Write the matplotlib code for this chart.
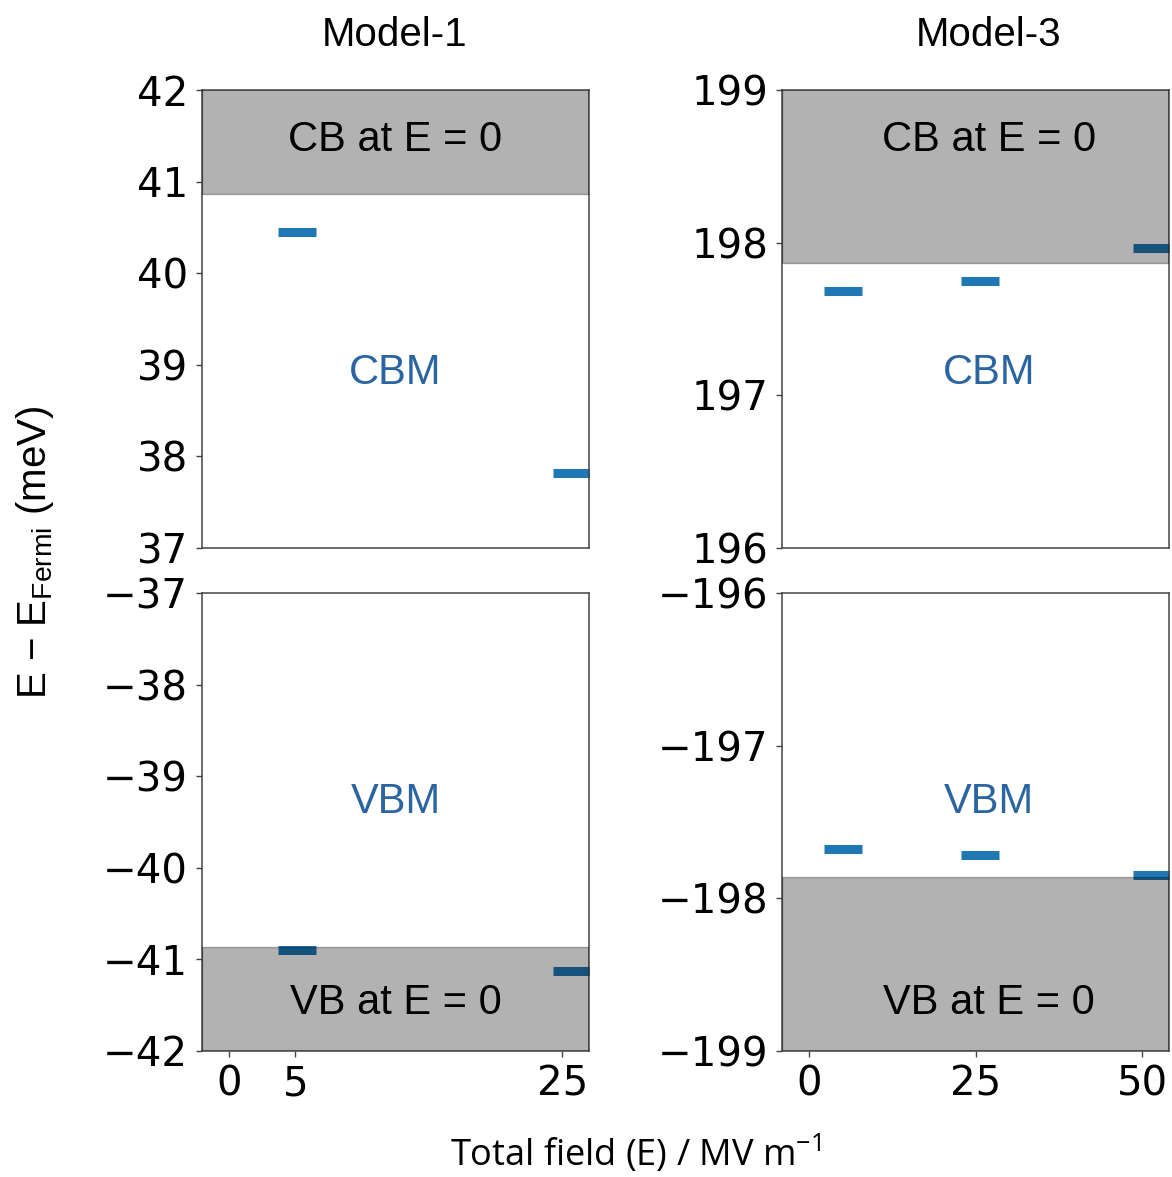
import matplotlib
matplotlib.use("Agg")
import matplotlib.pyplot as plt

# field values (MV/m) and band edges (meV)
m1_field = [5.1, 25.7]
m1_cbm = [40.45, 37.82]
m1_vbm = [-40.90, -41.13]
m1_cb0 = 40.86
m1_vb0 = -40.86

m3_field = [5.1, 25.7, 51.5]
m3_cbm = [197.685, 197.746, 197.967]
m3_vbm = [-197.674, -197.713, -197.844]
m3_cb0 = 197.864
m3_vb0 = -197.861

titles = ["Model-1", "Model-3"]
m1_xticks = [0, 5, 25]
m3_xticks = [0, 25, 50]

plt.rcParams['mathtext.fontset'] = 'custom'
plt.rcParams['mathtext.rm'] = 'Liberation Sans'

W, H = 1172, 1177
fig = plt.figure(figsize=(W / 100, H / 100), dpi=100)

def px_axes(x0, y0, x1, y1):
    return fig.add_axes([x0 / W, 1 - y1 / H, (x1 - x0) / W, (y1 - y0) / H])

ax_tl = px_axes(202, 90, 589, 548)
ax_bl = px_axes(202, 593, 589, 1051)
ax_tr = px_axes(782, 90, 1169, 548)
ax_br = px_axes(782, 593, 1169, 1051)

blue = '#1f77b4'
txt_blue = '#2b65a1'
sans = ['Liberation Sans', 'DejaVu Sans']

def style(ax):
    for sp in ax.spines.values():
        sp.set_color('#444444')
        sp.set_linewidth(1.1)
    ax.tick_params(labelsize=29, length=4, width=1, color='#444444', pad=6)

def panel(ax, x, y, edge, top_band, ylim, label, band_label, xlim, xticks, tx):
    ax.plot(x, y, '_', ms=28, mew=6.5, color=blue, zorder=2)
    if top_band:
        ax.axhspan(edge, edge + 10, color='k', alpha=0.3, zorder=3)
    else:
        ax.axhspan(edge - 10, edge, color='k', alpha=0.3, zorder=3)
    ax.set_ylim(*ylim)
    ax.set_xlim(*xlim)
    ax.set_xticks(xticks)
    style(ax)
    if top_band:
        ax.text(tx, 0.89, band_label, transform=ax.transAxes, ha='center',
                va='center', fontsize=30, family=sans, zorder=4)
        ax.text(tx, 0.383, label, transform=ax.transAxes, ha='center',
                va='center', fontsize=30, color=txt_blue, family=sans)
    else:
        ax.text(tx, 0.105, band_label, transform=ax.transAxes, ha='center',
                va='center', fontsize=30, family=sans, zorder=4)
        ax.text(tx, 0.543, label, transform=ax.transAxes, ha='center',
                va='center', fontsize=30, color=txt_blue, family=sans)

panel(ax_tl, m1_field, m1_cbm, m1_cb0, True, (37, 42), 'CBM', 'CB at E = 0',
      (-2, 27), m1_xticks, 0.5)
panel(ax_bl, m1_field, m1_vbm, m1_vb0, False, (-42, -37), 'VBM', 'VB at E = 0',
      (-2, 27), m1_xticks, 0.5)
panel(ax_tr, m3_field, m3_cbm, m3_cb0, True, (196, 199), 'CBM', 'CB at E = 0',
      (-4, 54), m3_xticks, 0.535)
panel(ax_br, m3_field, m3_vbm, m3_vb0, False, (-199, -196), 'VBM', 'VB at E = 0',
      (-4, 54), m3_xticks, 0.535)

for ax in (ax_tl, ax_tr):
    ax.tick_params(axis='x', bottom=False, labelbottom=False)
ax_tl.set_yticks([37, 38, 39, 40, 41, 42])
ax_bl.set_yticks([-42, -41, -40, -39, -38, -37])
ax_tr.set_yticks([196, 197, 198, 199])
ax_br.set_yticks([-199, -198, -197, -196])

fig.text(395 / W, 1 - 35 / H, titles[0], ha='center', va='center',
         fontsize=29, family=sans)
fig.text(989 / W, 1 - 35 / H, titles[1], ha='center', va='center',
         fontsize=29, family=sans)
fig.text(636 / W, 1 - 1154 / H, r'Total field (E) / MV m$^{\mathregular{-1}}$',
         ha='center', va='center', fontsize=26, family=['Open Sans', 'DejaVu Sans'])
fig.text(35 / W, 1 - 552 / H, r'E $-$ E$_{\mathregular{Fermi}}$ (meV)',
         ha='center', va='center', rotation=90, fontsize=29, family=sans)

fig.savefig('out.png', dpi=100)
